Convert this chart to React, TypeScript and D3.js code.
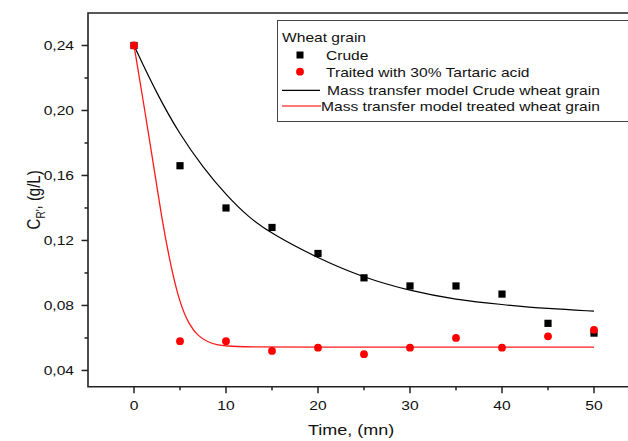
import * as d3 from 'd3';

// sampling times (mn)
const times = [0, 5, 10, 15, 20, 25, 30, 35, 40, 45, 50];
// measured C_R' (g/L)
const crude = [0.240, 0.166, 0.140, 0.128, 0.112, 0.097, 0.092, 0.092, 0.087, 0.069, 0.063];
const treated = [0.240, 0.058, 0.058, 0.052, 0.054, 0.050, 0.054, 0.060, 0.054, 0.061, 0.065];

// model curves
const modelCrudeT = [0, 2.5, 5, 7.5, 10, 12.5, 15, 20, 25, 30, 35, 40, 45, 50];
const modelCrudeC = [0.240, 0.210, 0.185, 0.165, 0.148, 0.134, 0.124, 0.109, 0.097, 0.089, 0.0835, 0.0805, 0.078, 0.0765];
const modelTreatedT = [0, 1, 2, 3, 4, 5, 6, 7, 8, 9, 10, 12, 20, 30, 40, 50];
const modelTreatedC = [0.240, 0.206, 0.171, 0.134, 0.104, 0.081, 0.068, 0.061, 0.0575, 0.0558, 0.0550, 0.0545, 0.0544, 0.0544, 0.0544, 0.0544];

const xMajor = [0, 10, 20, 30, 40, 50];
const xMinor = [5, 15, 25, 35, 45];
const yMajor = [0.04, 0.08, 0.12, 0.16, 0.20, 0.24];
const yMinor = [0.06, 0.10, 0.14, 0.18, 0.22];

const legendLabels = [
  'Wheat grain',
  'Crude',
  'Traited with 30% Tartaric acid',
  'Mass transfer model Crude wheat grain',
  'Mass transfer model treated wheat grain',
];

const FONT = 'Liberation Sans, Arial, sans-serif';
const SX = 1.2; // the original picture is stretched sideways

const Txt = ({ x, y, size = 13, anchor = 'start', children }: any) => (
  <text
    transform={`translate(${x},${y}) scale(${SX},1)`}
    fontSize={size}
    fontFamily={FONT}
    textAnchor={anchor}
    fill="#111"
  >
    {children}
  </text>
);

export default function App() {
  const x = d3.scaleLinear().domain([-5, 55]).range([88, 640]);
  const y = d3.scaleLinear().domain([0.03, 0.26]).range([386.7, 13]);
  const left = x(-5), right = x(55), top = y(0.26), bottom = y(0.03);

  const line = d3.line<[number, number]>()
    .x(d => x(d[0]))
    .y(d => y(d[1]))
    .curve(d3.curveBasis);

  const crudeModel = line(modelCrudeT.map((t, i) => [t, modelCrudeC[i]]));
  const treatedModel = line(modelTreatedT.map((t, i) => [t, modelTreatedC[i]]));

  return (
    <svg width={628} height={441} style={{ position: 'absolute', left: 0, top: 0, background: '#fff' }}>
      {/* model curves */}
      <path d={crudeModel ?? ''} fill="none" stroke="#000" strokeWidth={1.2} />
      <path d={treatedModel ?? ''} fill="none" stroke="#ff1a1a" strokeWidth={1.3} />

      {/* measured points */}
      {times.map((t, i) => (
        <rect key={'c' + t} x={x(t) - 3.6} y={y(crude[i]) - 3.6} width={7.2} height={7.2} fill="#000" />
      ))}
      {times.map((t, i) => (
        <circle key={'t' + t} cx={x(t)} cy={y(treated[i])} r={3.9} fill="#ff0000" />
      ))}

      {/* frame */}
      <path
        d={`M ${right} ${top} H ${left} V ${bottom} H ${right}`}
        fill="none"
        stroke="#222"
        strokeWidth={1.6}
      />

      {/* x axis */}
      {xMajor.map(v => (
        <g key={'xm' + v}>
          <line x1={x(v)} x2={x(v)} y1={bottom} y2={bottom + 6.5} stroke="#222" strokeWidth={1.5} />
          <Txt x={x(v)} y={410} anchor="middle">{v}</Txt>
        </g>
      ))}
      {xMinor.map(v => (
        <line key={'xn' + v} x1={x(v)} x2={x(v)} y1={bottom} y2={bottom + 3.5} stroke="#222" strokeWidth={1.5} />
      ))}
      <Txt x={351} y={435} size={15} anchor="middle">Time, (mn)</Txt>

      {/* y axis */}
      {yMajor.map(v => (
        <g key={'ym' + v}>
          <line x1={left} x2={left - 6.5} y1={y(v)} y2={y(v)} stroke="#222" strokeWidth={1.5} />
          <Txt x={74} y={y(v) + 4.6} anchor="end">{d3.format('.2f')(v).replace('.', ',')}</Txt>
        </g>
      ))}
      {yMinor.map(v => (
        <line key={'yn' + v} x1={left} x2={left - 3.5} y1={y(v)} y2={y(v)} stroke="#222" strokeWidth={1.5} />
      ))}
      <text
        transform={`translate(40,${(top + bottom) / 2}) scale(${SX},1) rotate(-90)`}
        fontSize={15}
        fontFamily={FONT}
        textAnchor="middle"
        fill="#111"
      >
        <tspan>C</tspan>
        <tspan fontSize={10} dy={4}>R'</tspan>
        <tspan dy={-4}>, (g/L)</tspan>
      </text>

      {/* legend */}
      <rect x={277.5} y={20.5} width={400} height={101} fill="#fff" stroke="#444" strokeWidth={1} />
      <Txt x={282} y={42}>{legendLabels[0]}</Txt>
      <rect x={296.5} y={51.5} width={7} height={7} fill="#000" />
      <Txt x={326} y={60}>{legendLabels[1]}</Txt>
      <circle cx={300} cy={71.7} r={3.9} fill="#ff0000" />
      <Txt x={326} y={76.7}>{legendLabels[2]}</Txt>
      <line x1={282} x2={320} y1={90.3} y2={90.3} stroke="#000" strokeWidth={1.2} />
      <Txt x={327} y={94.5}>{legendLabels[3]}</Txt>
      <line x1={282} x2={321} y1={106} y2={106} stroke="#ff4d4d" strokeWidth={1.3} />
      <Txt x={321} y={110.5}>{legendLabels[4]}</Txt>
    </svg>
  );
}
